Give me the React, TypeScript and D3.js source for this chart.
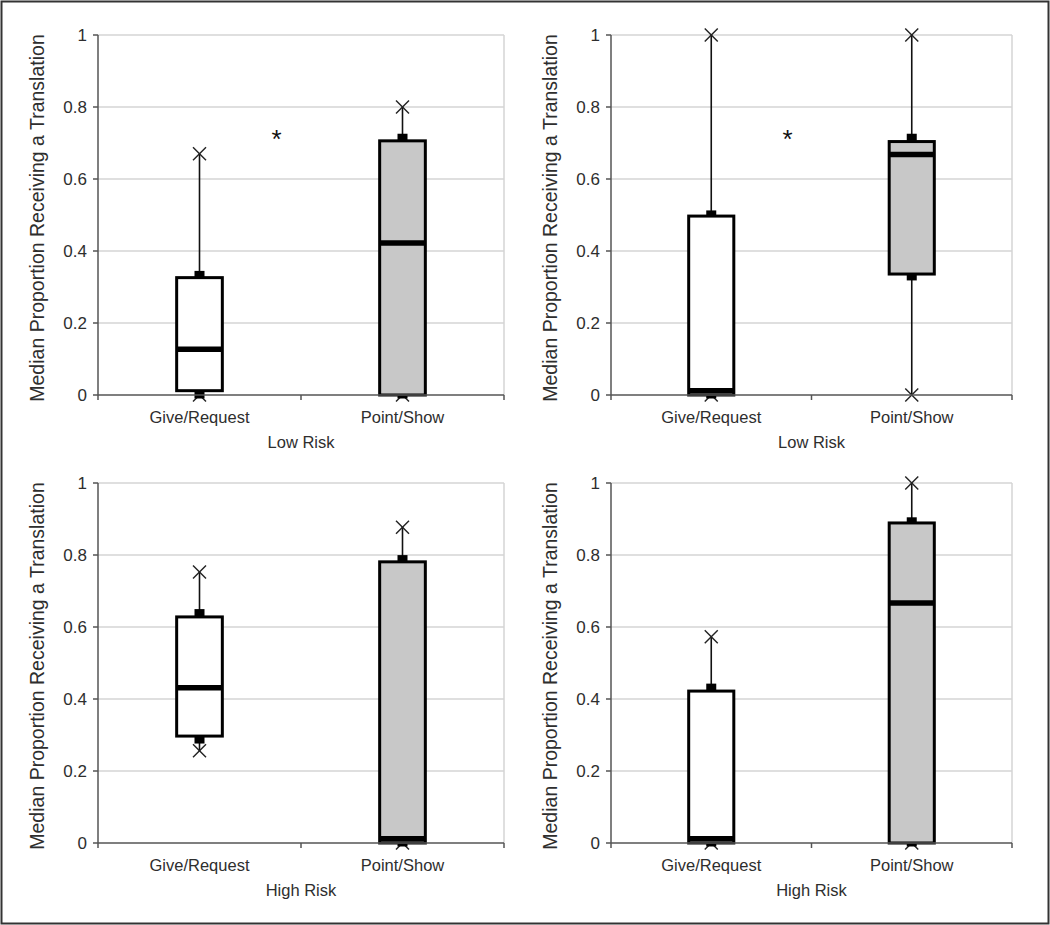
import React from "react";
import * as d3 from "d3";

// ---- data ----
const categories = ["Give/Request", "Point/Show"];
const panelGroups = ["Low Risk", "Low Risk", "High Risk", "High Risk"];
const yTicks = [0, 0.2, 0.4, 0.6, 0.8, 1];
const yTitle = "Median Proportion Receiving a Translation";

// per panel: [Give/Request, Point/Show]
const mins = [[0, 0], [0, 0], [0.256, 0], [0, 0]];
const lowCaps = [[0, 0], [0, 0.328], [0.286, 0], [0, 0]];
const q1s = [[0.012, 0], [0, 0.336], [0.297, 0], [0, 0]];
const medians = [[0.127, 0.422], [0.012, 0.668], [0.431, 0.012], [0.012, 0.667]];
const q3s = [[0.326, 0.706], [0.497, 0.704], [0.628, 0.781], [0.422, 0.889]];
const highCaps = [[0.335, 0.716], [0.503, 0.716], [0.64, 0.79], [0.433, 0.895]];
const maxs = [[0.67, 0.8], [1, 1], [0.753, 0.877], [0.573, 1]];
const boxFills = ["#ffffff", "#c8c8c8"];

// significance markers: panel index, position as fraction of plot width, y value
const asteriskPanels = [0, 1];
const asteriskXFrac = [0.44, 0.44];
const asteriskY = [0.73, 0.73];

// ---- layout ----
const W = 1050;
const H = 925;
const colX = [98, 611];
const colW = [406, 401];
const rowY = [35, 483];
const plotH = 360;

const FONT = "'Liberation Sans', Arial, sans-serif";
const TEXT = "#2e2e2e";

function Panel({ idx }: { idx: number }) {
  const col = idx % 2;
  const row = Math.floor(idx / 2);
  const x0 = colX[col];
  const w = colW[col];
  const y0 = rowY[row];
  const x = d3.scaleBand<string>().domain(categories).range([x0, x0 + w]);
  const y = d3.scaleLinear().domain([0, 1]).range([y0 + plotH, y0]);
  const boxW = x.bandwidth() * 0.225;
  const xs = 6.5;

  return (
    <g>
      {/* gridlines */}
      {yTicks.filter((t) => t > 0).map((t) => (
        <line key={"g" + t} x1={x0} x2={x0 + w} y1={y(t)} y2={y(t)} stroke="#d4d4d4" strokeWidth={1.5} />
      ))}
      {/* right plot border */}
      <line x1={x0 + w} x2={x0 + w} y1={y(1)} y2={y(0)} stroke="#d4d4d4" strokeWidth={1.5} />
      {/* y axis */}
      <line x1={x0} x2={x0} y1={y(1)} y2={y(0)} stroke="#555" strokeWidth={1.5} />
      {yTicks.map((t) => (
        <g key={"t" + t}>
          <line x1={x0 - 5} x2={x0} y1={y(t)} y2={y(t)} stroke="#555" strokeWidth={1.5} />
          <text x={x0 - 11} y={y(t)} dy="0.35em" textAnchor="end" fontFamily={FONT} fontSize={17} fill={TEXT}>
            {d3.format("~g")(t)}
          </text>
        </g>
      ))}
      {/* boxes */}
      {categories.map((c, ci) => {
        const cx = (x(c) as number) + x.bandwidth() / 2;
        const lo = mins[idx][ci];
        const hi = maxs[idx][ci];
        return (
          <g key={"b" + c}>
            <line x1={cx} x2={cx} y1={y(lowCaps[idx][ci])} y2={y(lo)} stroke="#111" strokeWidth={1.6} />
            <line x1={cx} x2={cx} y1={y(highCaps[idx][ci])} y2={y(hi)} stroke="#111" strokeWidth={1.6} />
            {[lo, hi].map((v, k) => (
              <g key={"x" + k} stroke="#222" strokeWidth={1.4}>
                <line x1={cx - xs} x2={cx + xs} y1={y(v) - xs} y2={y(v) + xs} />
                <line x1={cx - xs} x2={cx + xs} y1={y(v) + xs} y2={y(v) - xs} />
              </g>
            ))}
            <rect x={cx - 5} y={y(highCaps[idx][ci]) - 3.5} width={10} height={7} fill="#000" />
            <rect x={cx - 5} y={y(lowCaps[idx][ci]) - 3.5} width={10} height={7} fill="#000" />
            <rect
              x={cx - boxW / 2}
              y={y(q3s[idx][ci])}
              width={boxW}
              height={y(q1s[idx][ci]) - y(q3s[idx][ci])}
              fill={boxFills[ci]}
              stroke="#000"
              strokeWidth={3}
            />
            <line x1={cx - boxW / 2} x2={cx + boxW / 2} y1={y(medians[idx][ci])} y2={y(medians[idx][ci])} stroke="#000" strokeWidth={5.5} />
          </g>
        );
      })}
      {/* x axis */}
      <line x1={x0} x2={x0 + w} y1={y(0)} y2={y(0)} stroke="#555" strokeWidth={1.5} />
      {[x0, ...categories.map((c) => (x(c) as number) + x.bandwidth())].map((tx, i) => (
        <line key={"xt" + i} x1={tx} x2={tx} y1={y(0)} y2={y(0) + 5} stroke="#555" strokeWidth={1.5} />
      ))}
      {categories.map((c) => (
        <text key={"xl" + c} x={(x(c) as number) + x.bandwidth() / 2} y={y(0) + 22} dy="0.35em" textAnchor="middle" fontFamily={FONT} fontSize={16.5} fill={TEXT}>
          {c}
        </text>
      ))}
      <text x={x0 + w / 2} y={y(0) + 47} dy="0.35em" textAnchor="middle" fontFamily={FONT} fontSize={16.5} fill={TEXT}>
        {panelGroups[idx]}
      </text>
      {/* y title */}
      <text
        transform={`translate(${x0 - 61},${y0 + plotH / 2 + 3}) rotate(-90)`}
        dy="0.35em"
        textAnchor="middle"
        fontFamily={FONT}
        fontSize={19.5}
        fill={TEXT}
      >
        {yTitle}
      </text>
      {asteriskPanels.map((p, k) =>
        p === idx ? (
          <text key={"a" + k} x={x0 + w * asteriskXFrac[k]} y={y(asteriskY[k])} dy="0.6em" textAnchor="middle" fontFamily={FONT} fontSize={26} fill="#111">
            *
          </text>
        ) : null
      )}
    </g>
  );
}

export default function App() {
  return (
    <div style={{ position: "fixed", left: 0, top: 0, width: W, height: H, background: "#fff" }}>
      <svg width={W} height={H} viewBox={`0 0 ${W} ${H}`} style={{ display: "block" }}>
        <rect x={0} y={0} width={W} height={H} fill="#fff" />
        <rect x={1.5} y={1.5} width={W - 3} height={H - 3} fill="none" stroke="#333" strokeWidth={2} />
        {[0, 1, 2, 3].map((i) => (
          <Panel key={i} idx={i} />
        ))}
      </svg>
    </div>
  );
}
